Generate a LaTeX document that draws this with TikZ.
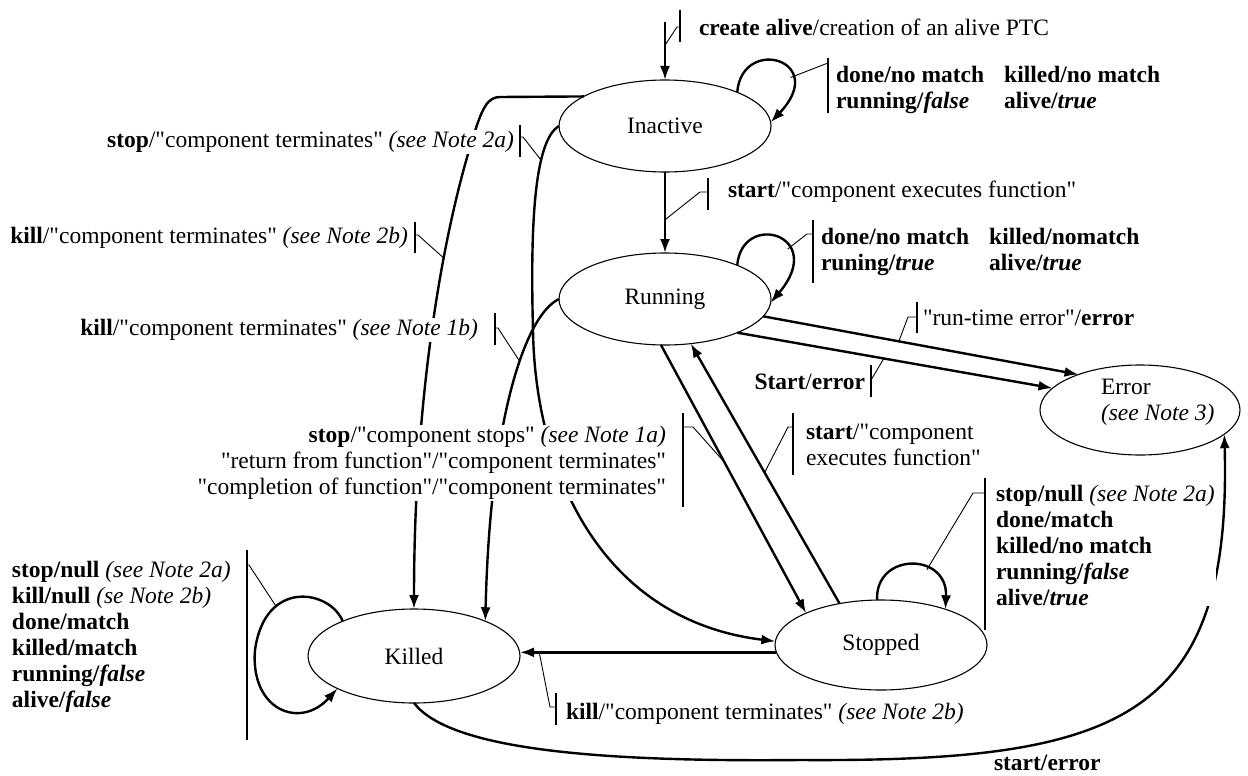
\documentclass[tikz,border=0pt]{standalone}
\usepackage{fontspec}
% a family without the TeX mapping keeps the " characters straight
\newfontfamily\lserif{Liberation Serif}
\usetikzlibrary{shapes.geometric,arrows.meta}
\begin{document}
\begin{tikzpicture}[x=1pt,y=-1pt,
  every node/.style={font=\lserif\fontsize{23.5}{26}\selectfont, inner sep=1pt, outer sep=0pt},
  state/.style={ellipse, draw, line width=1.1pt, minimum width=212pt, minimum height=92pt, inner sep=0pt},
  trans/.style={line width=2.4pt, -{Latex[length=14pt,width=10pt]}},
  leader/.style={line width=0.9pt},
  bar/.style={line width=2.4pt},
  lbl/.style={fill=white},
]
\useasboundingbox (0,0) rectangle (1248,776);

% states
\node[state] (Inactive) at (665,126) {Inactive};
\node[state] (Running) at (665,299) {Running};
\node[state, minimum width=200pt, minimum height=90pt] (Error) at (1140,410) {};
\node[anchor=west, align=left] (ErrorText) at (1100,402) {Error\\\textit{(see Note 3)}};
\node[state, minimum height=90pt] (Stopped) at (881,645) {Stopped};
\node[state, minimum height=94pt] (Killed) at (414,656) {Killed};

% creation
\coordinate (init) at (665,22);
\draw[trans] (init) -- (Inactive.north) coordinate[pos=0.4] (initp);
\draw[leader] (initp) -- (677,27) -- (680,27);
\draw[bar] (680,10) -- (680,42);

% Inactive self loop
\draw[trans] (Inactive.25) .. controls (742,35) and (830,60) .. (Inactive.2) coordinate[pos=0.7] (inloop);
\draw[leader] (inloop) -- (828,63);
\draw[bar] (828,58) -- (828,113);

% Inactive -> Running
\draw[trans] (Inactive.south) -- (Running.north) coordinate[pos=0.59] (irp);
\draw[leader] (irp) -- (700,192) -- (708,192);
\draw[bar] (708,178) -- (708,210);

% Running self loop
\draw[trans] (Running.25) .. controls (742,210) and (828,235) .. (Running.-2) coordinate[pos=0.65] (runloop);
\draw[leader] (runloop) -- (807,234) -- (813,234);
\draw[bar] (813,220) -- (813,283);

% Running -> Error
\draw[trans] (Running.-10.6) -- (Error.150) coordinate[pos=0.43] (rte);
\draw[leader] (rte) -- (908,317) -- (917,317);
\draw[bar] (917,302) -- (917,333);
\draw[trans] (Running.-25) -- (Error.166.6) coordinate[pos=0.465] (see);
\draw[leader] (871,380) -- (see);
\draw[bar] (871,365) -- (871,397);

% Running <-> Stopped
\draw[trans] (Running.-95) -- (Stopped.157) coordinate[pos=0.437] (rsp);
\draw[leader] (rsp) -- (693,427) -- (683,427);
\draw[bar] (683,413) -- (683,507);
\draw[trans] (Stopped.135) -- (Running.-60) coordinate[pos=0.504] (srp);
\draw[leader] (srp) -- (788,427) -- (793,427);
\draw[bar] (793,413) -- (793,475);

% Stopped self loop
\draw[trans] (Stopped.95) .. controls (875,552) and (948,552) .. (Stopped.29) coordinate[pos=0.65] (stloop);
\draw[leader] (stloop) -- (973,493) -- (985,493);
\draw[bar] (985,478) -- (985,630);

% Killed self loop
\draw[trans] (Killed.154.4) .. controls (330,590) and (265,578) .. (255,650) coordinate[pos=0.7] (kiloop)
  .. controls (250,710) and (300,730) .. (Killed.203.7);
\draw[leader] (kiloop) -- (249,565) -- (247,565);
\draw[bar] (247,550) -- (247,740);

% Stopped -> Killed
\draw[trans] (Stopped.184) -- (Stopped.184 -| Killed.east) coordinate[pos=0.925] (skp);
\draw[leader] (skp) -- (550,707) -- (556,707);
\draw[bar] (556,693) -- (556,725);

% Inactive -> Killed (kill)
\draw[trans] (Inactive.160.7) -- (500,97) .. controls (488,97) and (483,108) .. (477,125)
  .. controls (442,230) and (414,400) .. (Killed.north) coordinate[pos=0.35] (killA);
\draw[leader] (killA) -- (418,235) -- (415,235);
\draw[bar] (415,222) -- (415,253);

% Inactive -> Stopped (stop)
\draw[trans] (Inactive.west) .. controls (535,140) and (530,220) .. (533,330) coordinate[pos=0.33] (stopB)
  .. controls (535,470) and (600,620) .. (Stopped.178);
\draw[leader] (stopB) -- (523,137) -- (520,137);
\draw[bar] (520,125) -- (520,157);

% Running -> Killed (kill)
\draw[trans] (Running.west) .. controls (525,315) and (490,420) .. (Killed.26) coordinate[pos=0.4] (killD);
\draw[leader] (killD) -- (498,328) -- (495,328);
\draw[bar] (495,313) -- (495,345);

% Killed -> Error (start)
\draw[trans] (Killed.south) .. controls (450,750) and (600,762) .. (800,760)
  .. controls (1120,762) and (1232,720) .. (Error.-16);

% labels
\node[lbl, anchor=west] (lcreate) at (698,27) {\textbf{create alive}/creation of an alive PTC};
\node[lbl, anchor=west] (linloop) at (835,90) {\bfseries\begin{tabular}{@{}l@{\hspace{20pt}}l@{}}done/no match & killed/no match\\ running/\textit{false} & alive/\textit{true}\end{tabular}};
\node[lbl, anchor=west] (lstart) at (727,192) {\textbf{start}/"component executes function"};
\node[lbl, anchor=west] (lrunloop) at (820,252) {\bfseries\begin{tabular}{@{}l@{\hspace{20pt}}l@{}}done/no match & killed/nomatch\\ runing/\textit{true} & alive/\textit{true}\end{tabular}};
\node[lbl, anchor=west] (lrte) at (922,318) {"run-time error"/\textbf{error}};
\node[lbl, anchor=east] (lserr) at (866,382) {\textbf{Start}/\textbf{error}};
\node[lbl, anchor=east, align=right] (lstop) at (667,463) {\textbf{stop}/"component stops" \textit{(see Note 1a)}\\"return from function"/"component terminates"\\"completion of function"/"component terminates"};
\node[lbl, anchor=west, align=left] (lrestart) at (805,445) {\textbf{start}/"component\\executes function"};
\node[lbl, anchor=west, align=left] (lstloop) at (995,545) {\textbf{stop/null} \textit{(see Note 2a)}\\\textbf{done/match}\\\textbf{killed/no match}\\\textbf{running/\textit{false}}\\\textbf{alive/\textit{true}}};
\node[lbl, anchor=west, align=left] (lkiloop) at (11,637) {\textbf{stop/null} \textit{(see Note 2a)}\\\textbf{kill/null} \textit{(se Note 2b)}\\\textbf{done/match}\\\textbf{killed/match}\\\textbf{running/\textit{false}}\\\textbf{alive/\textit{false}}};
\node[lbl, anchor=west] (lsk) at (565,714) {\textbf{kill}/"component terminates" \textit{(see Note 2b)}};
\node[lbl, anchor=east] (lkillA) at (409,238) {\textbf{kill}/"component terminates" \textit{(see Note 2b)}};
\node[lbl, anchor=east] (lstopB) at (515,142) {\textbf{stop}/"component terminates" \textit{(see Note 2a)}};
\node[lbl, anchor=east] (lkillD) at (479,330) {\textbf{kill}/"component terminates" \textit{(see Note 1b)}};
\node[lbl, anchor=west] (lkerr) at (993,763) {\textbf{start/error}};
\end{tikzpicture}
\end{document}
